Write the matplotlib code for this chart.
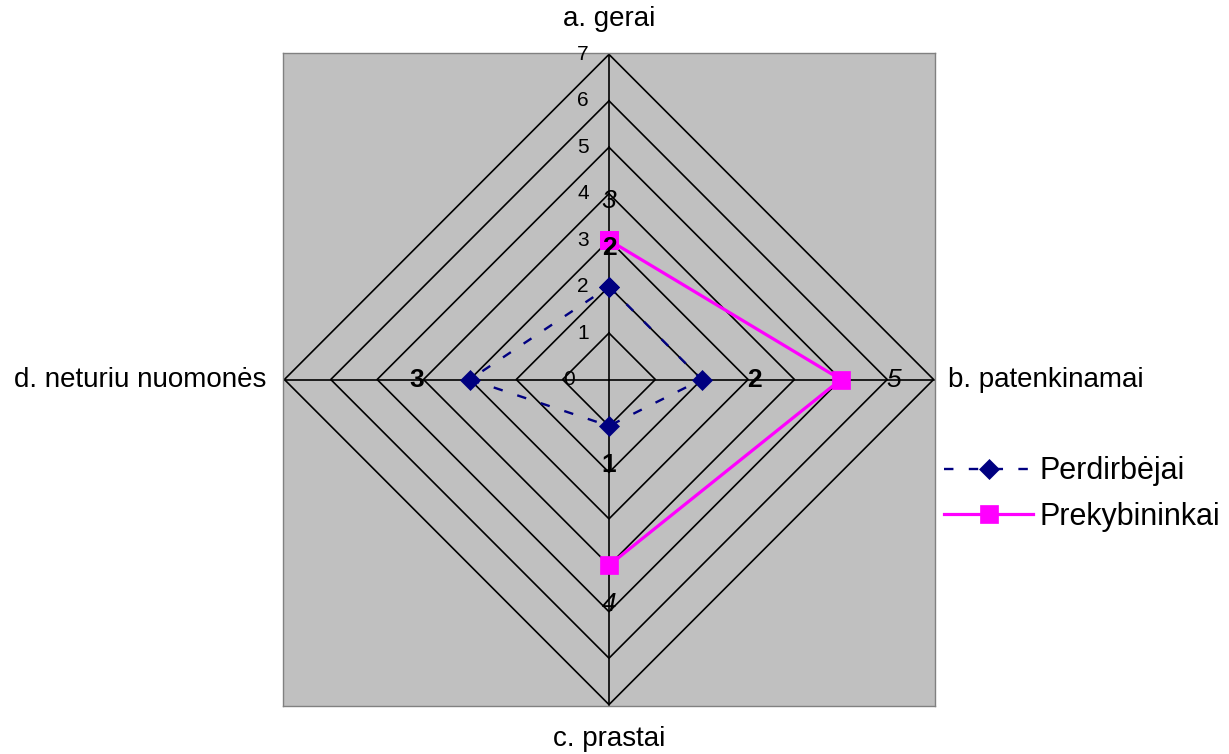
import numpy as np
import matplotlib
matplotlib.use("Agg")
import matplotlib.pyplot as plt

plt.rcParams['font.family'] = ['Liberation Sans', 'DejaVu Sans']

categories = ["a. gerai", "b. patenkinamai", "c. prastai", "d. neturiu nuomonės"]
perdirbejai = [2, 2, 1, 3]
prekybininkai = [3, 5, 4, np.nan]
series_names = ["Perdirbėjai", "Prekybininkai"]
ring_values = [1, 2, 3, 4, 5, 6, 7]
tick_labels = ["0", "1", "2", "3", "4", "5", "6", "7"]
r_max = 7

# clockwise from top
angles = np.deg2rad([90, 0, -90, 180])
cosa = np.round(np.cos(angles), 12)
sina = np.round(np.sin(angles), 12)


def to_xy(vals, close=True):
    v = np.asarray(vals, dtype=float)
    x = v * cosa
    y = v * sina
    if close:
        x = np.append(x, x[0])
        y = np.append(y, y[0])
    return x, y


fig = plt.figure(figsize=(12.29, 7.54), dpi=100)
fig.patch.set_facecolor('white')
ax = fig.add_axes([283 / 1229, 48 / 754, 652 / 1229, 653 / 754])
ax.set_facecolor('#C0C0C0')
lim = 7.03
ax.set_xlim(-lim, lim)
ax.set_ylim(-lim, lim)
ax.set_xticks([])
ax.set_yticks([])
for s in ax.spines.values():
    s.set_color('#808080')
    s.set_linewidth(1.0)

# rings
for k in ring_values:
    x, y = to_xy([k] * 4)
    ax.plot(x, y, color='black', lw=1.2, zorder=1)
# spokes
for ca, sa in zip(cosa, sina):
    ax.plot([0, r_max * ca], [0, r_max * sa], color='black', lw=1.2, zorder=1)

# tick labels along the top axis
for i, t in enumerate(tick_labels):
    dx = -20 if i > 0 else -34
    ax.annotate(t, xy=(0, i), xytext=(dx, 0), textcoords='offset pixels',
                ha='right', va='center', fontsize=15, color='black', zorder=5)

# series
x1, y1 = to_xy(perdirbejai)
ax.plot(x1, y1, color='#000080', lw=1.7, linestyle=(0, (4, 6.5)),
        marker='D', markersize=10.5, markeredgewidth=0.5,
        markerfacecolor='#000080', markeredgecolor='#000080',
        label=series_names[0], zorder=3)
x2, y2 = to_xy(prekybininkai)
ax.plot(x2, y2, color='#FF00FF', lw=2.3, linestyle='-',
        marker='s', markersize=13.5, markeredgewidth=0.5,
        markerfacecolor='#FF00FF', markeredgecolor='#FF00FF',
        label=series_names[1], zorder=3)

# data labels
off_v = 39
off_h = 53
def label_offset(i):
    return (off_h * cosa[i], off_v * sina[i])

for i, v in enumerate(perdirbejai):
    if np.isnan(v):
        continue
    ox, oy = label_offset(i)
    ax.annotate(str(int(v)), xy=(v * cosa[i], v * sina[i]), xytext=(ox, oy),
                textcoords='offset pixels', ha='center', va='center',
                fontsize=19, fontweight='bold', color='black', zorder=6)
for i, v in enumerate(prekybininkai):
    if np.isnan(v):
        continue
    ox, oy = label_offset(i)
    ax.annotate(str(int(v)), xy=(v * cosa[i], v * sina[i]), xytext=(ox, oy),
                textcoords='offset pixels', ha='center', va='center',
                fontsize=19, fontstyle='italic', color='black', zorder=6)

# category labels
cat_off = [(0, 35), (14, 0), (0, -34), (-18, 0)]
cat_ha = ['center', 'left', 'center', 'right']
for i, c in enumerate(categories):
    ax.annotate(c, xy=(r_max * cosa[i], r_max * sina[i]), xytext=cat_off[i],
                textcoords='offset pixels', ha=cat_ha[i], va='center',
                fontsize=20, color='black', annotation_clip=False)

leg = fig.legend(loc='center left', bbox_to_anchor=(932 / 1229, 1 - 494 / 754),
                 fontsize=22, frameon=False, handlelength=2.9, handletextpad=0.22,
                 labelspacing=0.5, borderpad=0.4, borderaxespad=0)

fig.savefig('out.png', dpi=100, facecolor='white')
